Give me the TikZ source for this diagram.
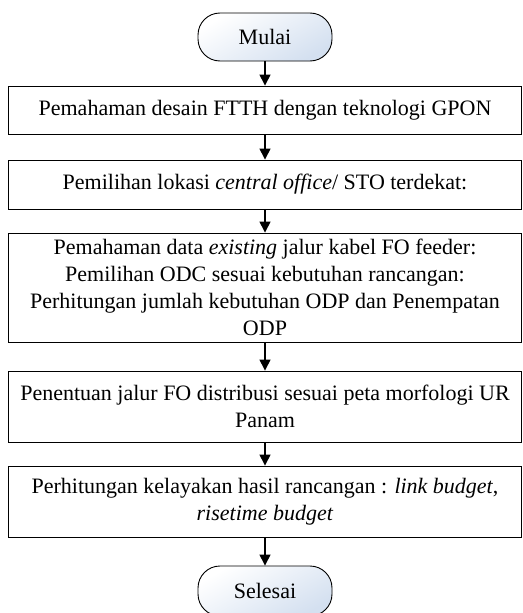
\documentclass[tikz,border=0pt]{standalone}
\usepackage{fontspec}
\setmainfont{Liberation Serif}
\usetikzlibrary{arrows.meta}
\definecolor{termblue}{RGB}{212,224,240}
\begin{document}
\begin{tikzpicture}[x=1pt,y=1pt,
    terminal/.style={draw,line width=0.9pt,rounded corners=22pt,minimum width=134pt,
      minimum height=48pt,top color=white,bottom color=termblue,shading angle=30,
      font=\fontsize{22}{27}\selectfont},
    process/.style={draw,line width=0.9pt,minimum width=513pt,align=center,
      font=\fontsize{22}{27}\selectfont},
    flow/.style={line width=1.4pt,-{Triangle[width=11pt,length=11pt]}}]
    \useasboundingbox (0,0) rectangle (522,-613);
    \node[terminal] (mulai) at (265,-37) {Mulai};
    \node[process,minimum height=48pt] (desain) at (265,-110)
      {Pemahaman desain FTTH dengan teknologi GPON};
    \node[process,minimum height=49pt] (lokasi) at (265,-184.5)
      {Pemilihan lokasi \textit{central office}/ STO terdekat:};
    \node[process,minimum height=109pt] (feeder) at (265,-287.5)
      {Pemahaman data \textit{existing} jalur kabel FO feeder:\\
       Pemilihan ODC sesuai kebutuhan rancangan:\\
       Perhitungan jumlah kebutuhan ODP dan Penempatan\\ ODP};
    \node[process,minimum height=71pt] (distribusi) at (265,-406.5)
      {Penentuan jalur FO distribusi sesuai peta morfologi UR\\ Panam};
    \node[process,minimum height=71pt] (kelayakan) at (265,-501.5)
      {Perhitungan kelayakan hasil rancangan : \textit{link budget},\\
       \textit{risetime budget}};
    \node[terminal,minimum height=50pt] (selesai) at (265,-591) {Selesai};
%    connectors
    \draw[flow] (mulai)--(desain);
    \draw[flow] (desain)--(lokasi);
    \draw[flow] (lokasi)--(feeder);
    \draw[flow] (feeder)--(distribusi);
    \draw[flow] (distribusi)--(kelayakan);
    \draw[flow] (kelayakan)--(selesai);
\end{tikzpicture}
\end{document}
